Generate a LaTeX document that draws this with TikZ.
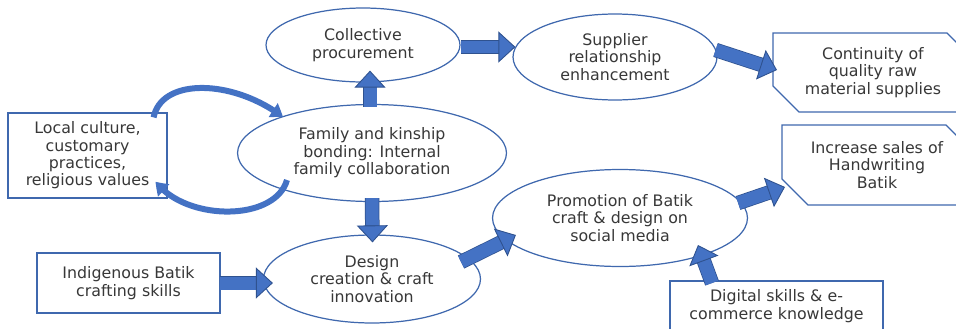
\documentclass[tikz,border=0pt]{standalone}
\usepackage{fontspec}
\setmainfont{DejaVu Sans}
\usetikzlibrary{shapes.geometric,shapes.misc,arrows.meta,bending}

\definecolor{edgeblue}{HTML}{3F68AE}
\definecolor{arrowblue}{HTML}{4472C4}
\definecolor{arrowdark}{HTML}{2F528F}
\definecolor{textgrey}{HTML}{383838}

\tikzset{
  every node/.style={font=\fontsize{9}{9.9}\selectfont, text=textgrey, align=center, inner sep=0pt},
  oval/.style={ellipse, draw=edgeblue, line width=0.7pt, fill=white},
  plainbox/.style={rectangle, draw=edgeblue, line width=0.7pt, fill=white},
  snipbox/.style={chamfered rectangle, chamfered rectangle corners={north east,south west},
    chamfered rectangle xsep=0.26cm, chamfered rectangle ysep=0.26cm,
    draw=edgeblue, line width=0.7pt, fill=white},
  blockarrow/.style={draw=arrowblue, line width=0.26cm,
    -{Triangle[length=0.34cm,width=0.62cm,line width=0.5pt,color=arrowdark,fill=arrowblue]},
    preaction={draw=arrowdark, line width=0.29cm, arrows=-, shorten >=0.3cm}},
  curvearrow/.style={draw=arrowblue, line width=0.12cm,
    -{Triangle[length=0.24cm,width=0.32cm,bend]}}
}

\begin{document}
\begin{tikzpicture}[x=0.02cm,y=-0.02cm]
    \useasboundingbox (0,0) rectangle (956,328);

    % Ovals
    \node[oval, minimum width=3.88cm, minimum height=1.48cm] (coll) at (363,45) {Collective\\procurement};
    \node[oval, minimum width=4.08cm, minimum height=1.72cm] (supp) at (615,57) {Supplier\\relationship\\enhancement};
    \node[oval, minimum width=5.38cm, minimum height=1.94cm] (fam) at (372,153) {Family and kinship\\bonding: Internal\\family collaboration};
    \node[oval, minimum width=4.34cm, minimum height=1.76cm] (design) at (372,279) {Design\\creation \& craft\\innovation};
    \node[oval, minimum width=5.10cm, minimum height=1.94cm] (promo) at (620,218) {Promotion of Batik\\craft \& design on\\social media};

    % Inputs
    \node[plainbox, minimum width=3.18cm, minimum height=1.70cm] (local) at (87.5,155.5) {Local culture,\\customary\\practices,\\religious values};
    \node[plainbox, minimum width=3.66cm, minimum height=1.20cm] (indig) at (128.5,283) {Indigenous Batik\\crafting skills};
    \node[plainbox, minimum width=4.26cm, minimum height=1.00cm] (digit) at (776.5,306) {Digital skills \& e-\\commerce knowledge};

    % Outcomes (right edges run off the page)
    \node[snipbox, minimum width=4.00cm, minimum height=1.58cm] (cont) at (873,72.5) {Continuity of\\quality raw\\material supplies};
    \node[snipbox, minimum width=3.80cm, minimum height=1.60cm] (incr) at (877,165) {Increase sales of\\Handwriting\\Batik};

    % Block arrows
    \draw[blockarrow] ([shift={(-2,3)}]fam.north) -- ([shift={(7,-12)}]coll.south);
    \draw[blockarrow] ([shift={(0,2)}]coll.east) -- ([shift={(3,-10)}]supp.west);
    \draw[blockarrow] ([shift={(-2,-7)}]supp.east) -- ([shift={(-96,-2.5)}]cont.center);
    \draw[blockarrow] ([shift={(0,-4)}]fam.south) -- ([shift={(0.5,8)}]design.north);
    \draw[blockarrow] ([shift={(-1,0)}]indig.east) -- ([shift={(10,4)}]design.west);
    \draw[blockarrow] ([shift={(-20,-17)}]design.east) -- ([shift={(24,17)}]promo.west);
    \draw[blockarrow] ([shift={(-10,-15)}]promo.east) -- ([shift={(-92,22)}]incr.center);
    \draw[blockarrow] ([shift={(-64.5,-23)}]digit.center) -- ([shift={(78,27)}]promo.center);

    % Feedback loop
    \draw[curvearrow] ([shift={(-14,5)}]local.north east) .. controls +(8,-40) and +(-50,-38) .. ([shift={(-89,-36)}]fam.center);
    \draw[curvearrow] ([shift={(-85,27)}]fam.center) .. controls +(-12,42) and +(30,40) .. ([shift={(-12,-17)}]local.south east);
\end{tikzpicture}
\end{document}
